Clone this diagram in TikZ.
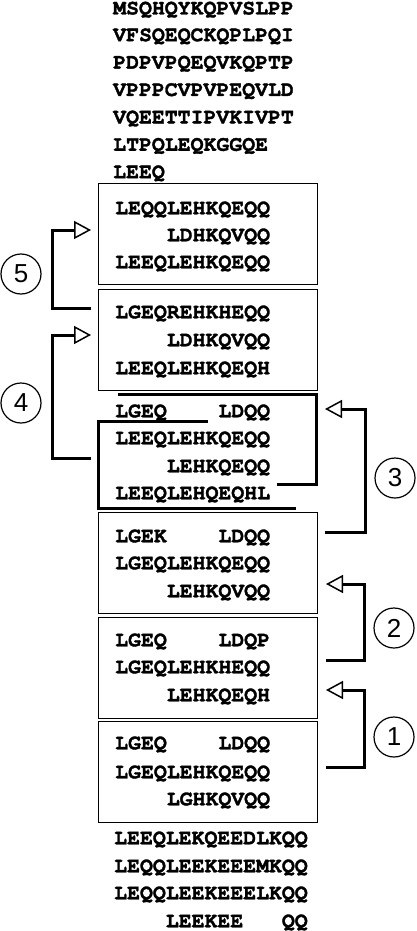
\documentclass[tikz,border=0pt]{standalone}
\usepackage{fontspec}
\setmonofont{TeX Gyre Cursor}[BoldFeatures={FakeBold=1.6}]
\setsansfont{Liberation Sans}
\usetikzlibrary{arrows.meta}
\newcommand{\gap}[1]{\hphantom{#1}}
\tikzset{
  seq/.style={anchor=base west, inner sep=0pt, font=\ttfamily\bfseries\fontsize{21.5pt}{22pt}\selectfont},
  box/.style={draw, line width=1.4pt, anchor=north west, inner sep=0pt, minimum width=219pt, minimum height=101pt},
  link/.style={line width=3pt, line join=miter},
  arr/.style={link, -{Triangle[open, length=17pt, width=18pt, line width=1.5pt]}},
  num/.style={circle, draw, line width=1.2pt, minimum size=40pt, inner sep=0pt, font=\sffamily\fontsize{26pt}{26pt}\selectfont},
}
\begin{document}
\begin{tikzpicture}[x=1pt, y=-1pt]
\useasboundingbox (0,0) rectangle (416,931);
% top sequence
\node[seq] (t1) at (113,14.5) {MSQHQYKQPVSLPP};
\node[seq] (t2) at (113,41.2) {VFSQEQCKQPLPQI};
\node[seq] (t3) at (113,68.6) {PDPVPQEQVKQPTP};
\node[seq] (t4) at (113,96.0) {VPPPCVPVPEQVLD};
\node[seq] (t5) at (113,123.4) {VQEETTIPVKIVPT};
\node[seq] (t6) at (113,150.8) {LTPQLEQKGGQE};
\node[seq] (t7) at (113,178.2) {LEEQ};
% boxes
\node[box] (b1) at (98,183) {};
\node[box] (b2) at (98,289) {};
\node[box] (b3) at (98,512) {};
\node[box] (b4) at (98,617) {};
\node[box] (b5) at (98,721) {};
% box 1
\node[seq] (a1) at (115,214.3) {LEQQLEHKQEQQ};
\node[seq] (a2) at (115,241.3) {\gap{LEQQ}LDHKQVQQ};
\node[seq] (a3) at (115,268.3) {LEEQLEHKQEQQ};
% box 2
\node[seq] (c1) at (115,318.3) {LGEQREHKHEQQ};
\node[seq] (c2) at (115,346.3) {\gap{LEQQ}LDHKQVQQ};
\node[seq] (c3) at (115,374.3) {LEEQLEHKQEQH};
% region 3
\node[seq] (d1) at (115,417.3) {LGEQ\gap{LEQQ}LDQQ};
\node[seq] (d2) at (115,444.3) {LEEQLEHKQEQQ};
\node[seq] (d3) at (115,472.3) {\gap{LEQQ}LEHKQEQQ};
\node[seq] (d4) at (115,499.3) {LEEQLEHQEQHL};
% box 3
\node[seq] (e1) at (115,542.3) {LGEK\gap{LEQQ}LDQQ};
\node[seq] (e2) at (115,569.3) {LGEQLEHKQEQQ};
\node[seq] (e3) at (115,597.3) {\gap{LEQQ}LEHKQVQQ};
% box 4
\node[seq] (f1) at (115,646.3) {LGEQ\gap{LEQQ}LDQP};
\node[seq] (f2) at (115,673.3) {LGEQLEHKHEQQ};
\node[seq] (f3) at (115,701.3) {\gap{LEQQ}LEHKQEQH};
% box 5
\node[seq] (g1) at (115,749.3) {LGEQ\gap{LEQQ}LDQQ};
\node[seq] (g2) at (115,778.3) {LGEQLEHKQEQQ};
\node[seq] (g3) at (115,805.3) {\gap{LEQQ}LGHKQVQQ};
% bottom sequence
\node[seq] (h1) at (114,844.3) {LEEQLEKQEEDLKQQ};
\node[seq] (h2) at (114,872.3) {LEQQLEEKEEEMKQQ};
\node[seq] (h3) at (114,899.3) {LEQQLEEKEEELKQQ};
\node[seq] (h4) at (114,927.3) {\gap{LEQQ}LEEKEE\gap{LEQ}QQ};
% region 3 brackets
\coordinate (r1a) at (118,394);
\coordinate (r1b) at (277,484);
\coordinate (r2a) at (208,421);
\coordinate (r2b) at (296,508);
\draw[link] (r1a) -- (316,394) -- (316,484) -- (r1b);
\draw[link] (r2a) -- (98,421) -- (98,508) -- (r2b);
% arrows
\coordinate (p5s) at (91,308); \coordinate (p5e) at (91,230);
\coordinate (p4s) at (91,458); \coordinate (p4e) at (91,335);
\coordinate (p3s) at (325,532); \coordinate (p3e) at (325,409);
\coordinate (p2s) at (326,660); \coordinate (p2e) at (326,584);
\coordinate (p1s) at (326,767); \coordinate (p1e) at (326,690);
\draw[arr] (p5s) -- (52,308) -- (52,230) -- (p5e);
\draw[arr] (p4s) -- (52,458) -- (52,335) -- (p4e);
\draw[arr] (p3s) -- (365,532) -- (365,409) -- (p3e);
\draw[arr] (p2s) -- (364,660) -- (364,584) -- (p2e);
\draw[arr] (p1s) -- (364,767) -- (364,690) -- (p1e);
% numbers
\node[num] (n5) at (21,274) {5};
\node[num] (n4) at (21,403) {4};
\node[num] (n3) at (395,478) {3};
\node[num] (n2) at (394,628) {2};
\node[num] (n1) at (394,737) {1};
\end{tikzpicture}
\end{document}
